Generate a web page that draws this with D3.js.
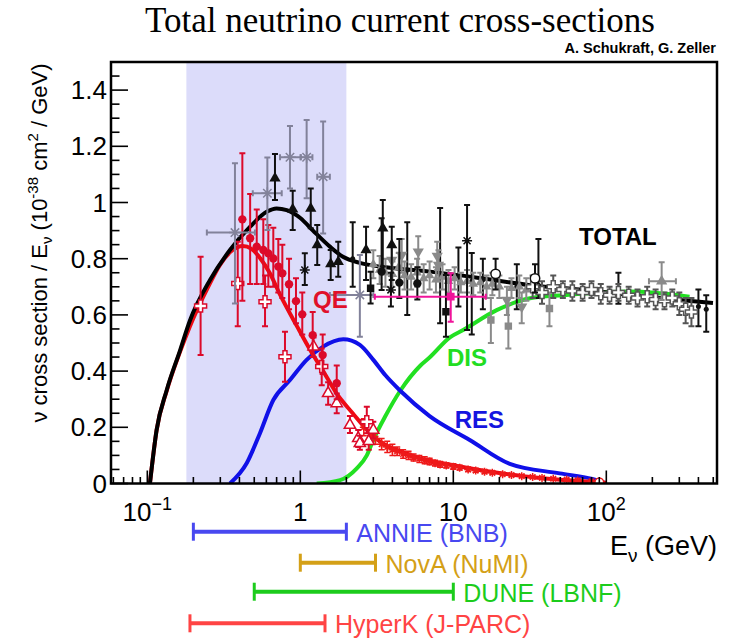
<!DOCTYPE html>
<html><head><meta charset="utf-8">
<script src="https://cdn.jsdelivr.net/npm/d3@7"></script>
<style>body{margin:0;background:#fff}svg{display:block}</style>
</head><body>
<script>
// ---------- DATA ----------
const xTickMajor = [0.1, 1, 10, 100];
const xTickLabels = [["10","\u22121"],["1",""],["10",""],["10","2"]];
const yTickMajor = [0,0.2,0.4,0.6,0.8,1.0,1.2,1.4];
const yTickLabels = ["0","0.2","0.4","0.6","0.8","1","1.2","1.4"];

const totalCurve = [[0.104,0],[0.115,0.19],[0.134,0.333],[0.164,0.475],[0.19,0.58],[0.257,0.724],[0.347,0.831],[0.47,0.914],[0.603,0.967],[0.70,0.979],[0.815,0.973],[1.0,0.945],[1.21,0.90],[1.56,0.843],[1.9,0.807],[2.45,0.785],[3.32,0.772],[7.05,0.754],[15,0.731],[31.7,0.706],[67,0.69],[143,0.671],[303,0.653],[498,0.642]];
const qeCurve = [[0.104,0],[0.115,0.19],[0.134,0.33],[0.164,0.47],[0.19,0.56],[0.25,0.70],[0.30,0.78],[0.36,0.83],[0.42,0.845],[0.48,0.835],[0.55,0.80],[0.63,0.75],[0.74,0.67],[0.95,0.56],[1.16,0.475],[1.41,0.40],[1.73,0.32],[2.2,0.25],[2.85,0.18],[3.3,0.15],[4.5,0.115],[6,0.09],[10,0.065],[20,0.037],[40,0.018],[100,0.003]];
const resCurve = [[0.347,0],[0.446,0.072],[0.545,0.179],[0.666,0.297],[0.856,0.368],[1.10,0.44],[1.41,0.487],[1.91,0.513],[2.45,0.493],[3.0,0.44],[3.6,0.385],[4.5,0.33],[7,0.24],[12.8,0.155],[23.4,0.07],[49.6,0.036],[81,0.016],[100,0]];
const disCurve = [[1.28,0],[1.82,0.012],[2.34,0.054],[2.72,0.10],[3.0,0.155],[3.6,0.24],[4.5,0.33],[6.1,0.42],[7.05,0.45],[9.5,0.52],[11.6,0.546],[19.2,0.617],[31.7,0.659],[52,0.67],[143,0.683],[350,0.665]];

// rows: [E, value, upper, lower, eLow, eHigh]
const redCircles = [[0.418,0.940,1.175,0.65],[0.47,0.873,1.03,0.71],[0.519,0.843,0.975,0.71],[0.573,0.831,0.94,0.71],[0.618,0.819,0.92,0.70],[0.666,0.801,0.91,0.70],[0.718,0.772,0.87,0.68],[0.763,0.748,0.85,0.66],[0.844,0.709,0.80,0.62],[0.937,0.649,0.73,0.57],[1.03,0.602,0.68,0.53],[1.205,0.528,0.61,0.45],[1.40,0.457,0.53,0.39],[1.73,0.357,0.42,0.30]];
const redOpenCrosses = [[0.223,0.632,0.807,0.457],[0.39,0.712,0.86,0.56],[0.588,0.647,0.74,0.56],[0.794,0.451,0.54,0.362],[1.38,0.416,0.48,0.35],[2.72,0.22,0.273,0.179]];
const redOpenTriangles = [[1.22,0.487,0.52,0.45],[1.52,0.321,0.36,0.28],[1.73,0.285,0.32,0.25],[2.11,0.208,0.24,0.18],[2.39,0.161,0.19,0.13],[2.45,0.143,0.17,0.12],[2.8,0.15,0.18,0.12],[3.0,0.19,0.22,0.16]];
const redStars = [[2.6,0.20,0.23,0.17],[2.9,0.17,0.19,0.15],[3.1,0.16,0.18,0.14],[3.4,0.14,0.16,0.12],[3.7,0.13,0.15,0.11],[4.0,0.12,0.14,0.10],[4.3,0.115,0.13,0.10],[4.7,0.105,0.12,0.09],[5.1,0.10,0.115,0.085],[5.5,0.092,0.105,0.08],[6.0,0.088,0.10,0.075],[6.5,0.082,0.095,0.07],[7.0,0.078,0.09,0.067],[7.6,0.072,0.083,0.062],[8.2,0.068,0.078,0.058],[9.0,0.064,0.074,0.055],[10,0.06,0.07,0.051],[11,0.056,0.065,0.048],[12.5,0.05,0.058,0.043],[14,0.046,0.053,0.04],[16,0.042,0.048,0.036],[18,0.038,0.044,0.033],[21,0.033,0.038,0.029],[24,0.03,0.035,0.026],[28,0.026,0.03,0.022],[33,0.023,0.027,0.019],[38,0.02,0.024,0.017],[45,0.017,0.02,0.014],[55,0.014,0.017,0.011],[65,0.011,0.014,0.009],[80,0.008,0.01,0.006]];
const redOpenCircles = [[90,0.004,0.006,0.002]];

const grayStarsX = [[0.374,0.893,1.14,0.641,0.245,0.505],[0.609,1.033,1.16,0.902,0.489,0.756],[0.856,1.161,1.272,1.05,0.737,1.006],[1.10,1.161,1.294,1.015,1.006,1.2],[1.41,1.092,1.288,0.89,1.29,1.56],[2.45,0.671,0.813,0.522,1.56,3.0]];
const blackTriangles = [[0.683,1.086,1.173,1.009],[0.892,0.976,1.042,0.902],[1.17,0.979,1.05,0.908],[1.29,0.849,0.92,0.778],[1.58,0.781,0.831,0.724],[1.77,0.789,0.86,0.736],[2.69,0.831,0.914,0.724],[3.46,0.908,1.009,0.772],[3.96,0.849,0.914,0.724]];
const blackStars = [[1.07,0.76,0.819,0.706],[12.3,0.864,0.991,0.546],[3.91,0.689,0.75,0.63]];
const blackCircles = [[3.4,0.754,0.944,0.689],[4.44,0.715,0.87,0.66],[5.82,0.712,0.77,0.655]];
const blackBars = [[2.2,0.80,0.93,0.70],[5.0,0.76,0.93,0.60],[8.2,0.74,0.98,0.57],[10.8,0.73,0.84,0.63],[13.2,0.72,0.82,0.53],[15.6,0.725,0.80,0.62],[26,0.70,0.78,0.62],[36,0.705,0.87,0.66],[120,0.685,0.75,0.64],[400,0.63,0.69,0.56],[450,0.62,0.67,0.54]];
const blackSquares = [[2.88,0.695,0.754,0.641],[8.95,0.611,0.742,0.522]];
const blackOpenCircles = [[18.9,0.746,0.80,0.69],[34.2,0.73,0.78,0.68]];
const grayInvTriangles = [[3.96,0.795,0.85,0.74],[4.6,0.813,0.87,0.75],[5.9,0.825,0.88,0.77],[7.85,0.81,0.86,0.76],[8.0,0.778,0.83,0.72],[22.4,0.653,0.70,0.60],[28,0.629,0.68,0.57]];
const graySquares = [[17.6,0.582,0.66,0.50],[22.9,0.56,0.64,0.48],[42.5,0.623,0.68,0.56]];
const grayDense = [[3.0,0.78,0.83,0.73],[3.3,0.76,0.81,0.71],[3.6,0.75,0.80,0.70],[4.0,0.745,0.79,0.70],[4.4,0.77,0.82,0.72],[4.8,0.74,0.79,0.69],[5.3,0.735,0.78,0.69],[5.8,0.75,0.80,0.70],[6.4,0.73,0.78,0.68],[7.0,0.74,0.79,0.69],[7.7,0.725,0.77,0.68],[8.5,0.735,0.78,0.69],[9.3,0.72,0.76,0.68],[10.2,0.73,0.77,0.69],[11.2,0.715,0.75,0.68],[12.3,0.72,0.76,0.68],[13.5,0.71,0.75,0.67],[15,0.715,0.75,0.68],[16.5,0.70,0.74,0.66],[18,0.71,0.75,0.67],[20,0.70,0.74,0.66],[24,0.695,0.73,0.66],[27,0.70,0.74,0.66],[30,0.69,0.73,0.65]];
const openCrosses = [[33,0.70,0.74,0.66],[38,0.68,0.72,0.64],[45,0.70,0.74,0.66],[52,0.69,0.72,0.66],[60,0.685,0.72,0.65],[70,0.68,0.71,0.65],[80,0.69,0.72,0.66],[92,0.675,0.71,0.64],[105,0.67,0.70,0.64],[120,0.68,0.71,0.65],[140,0.67,0.70,0.64],[160,0.66,0.69,0.63],[185,0.665,0.70,0.63],[210,0.655,0.69,0.62],[240,0.65,0.68,0.62],[270,0.66,0.69,0.63],[300,0.64,0.68,0.60],[330,0.62,0.66,0.57],[360,0.61,0.66,0.56]];
const grayTrianglesX = [[230,0.72,0.787,0.653,190,285]];
const magentaPoint = [[9.62,0.665,0.748,0.576,3.07,16.3]];

const experiments = ["ANNIE (BNB)","NovA (NuMI)","DUNE (LBNF)","HyperK (J-PARC)"];
const expLow = [0.2, 1.0, 0.5, 0.19];
const expHigh = [2.0, 3.1, 10, 1.45];
const shadeRange = [0.18, 2.0];

// ---------- STYLE ----------
const W=732,H=641;
const L=111,R=717,T=62,B=483.5;
const expColors=["#4848f0","#d4a017","#1ccc1c","#ff4444"];
const expY=[531.7,562.7,591.7,623.3];
const SANS="'Liberation Sans', Arial, Helvetica, sans-serif";

const svg=d3.select("body").append("svg").attr("width",W).attr("height",H).style("background","#fff");
const x=d3.scaleLog().domain([0.0579,529]).range([L,R]);
const y=d3.scaleLinear().domain([0,1.5]).range([B,T]);

svg.append("clipPath").attr("id","c").append("rect").attr("x",L).attr("y",T).attr("width",R-L).attr("height",B-T);

svg.append("rect").attr("x",x(shadeRange[0])).attr("y",T).attr("width",x(shadeRange[1])-x(shadeRange[0])).attr("height",B-T).attr("fill","#dcdcfa");

const plot=svg.append("g").attr("clip-path","url(#c)");

const line=d3.line().x(d=>x(d[0])).y(d=>y(d[1])).curve(d3.curveMonotoneX);
function curve(data,color){plot.append("path").datum(data).attr("d",line).attr("fill","none").attr("stroke",color).attr("stroke-width",4).attr("stroke-linejoin","round");}
curve(disCurve,"#22e022");
curve(resCurve,"#1010e8");
curve(qeCurve,"#ee0a14");
curve(totalCurve,"#000");

function sym(type,size){return d3.symbol().type(type).size(size)();}
function asterisk(r){return `M${-r},0L${r},0M0,${-r}L0,${r}M${-r*0.7},${-r*0.7}L${r*0.7},${r*0.7}M${-r*0.7},${r*0.7}L${r*0.7},${-r*0.7}`;}
function series(data,opt){
  const g=plot.append("g");
  const c=opt.color, ew=opt.ew||2;
  data.forEach(d=>{
    const cx=x(d[0]),cy=y(d[1]);
    if(d[2]!==undefined){
      g.append("line").attr("x1",cx).attr("x2",cx).attr("y1",y(d[2])).attr("y2",y(d[3])).attr("stroke",c).attr("stroke-width",ew);
      [d[2],d[3]].forEach(v=>g.append("line").attr("x1",cx-3).attr("x2",cx+3).attr("y1",y(v)).attr("y2",y(v)).attr("stroke",c).attr("stroke-width",ew));
    }
    if(d[4]!==undefined){
      g.append("line").attr("x1",x(d[4])).attr("x2",x(d[5])).attr("y1",cy).attr("y2",cy).attr("stroke",c).attr("stroke-width",ew);
      [d[4],d[5]].forEach(v=>g.append("line").attr("x1",x(v)).attr("x2",x(v)).attr("y1",cy-3).attr("y2",cy+3).attr("stroke",c).attr("stroke-width",ew));
    }
    if(!opt.shape) return;
    const m=g.append("path").attr("transform",`translate(${cx},${cy})${opt.rot?` rotate(${opt.rot})`:""}`);
    if(opt.shape==="ast"){m.attr("d",asterisk(opt.r||5)).attr("stroke",c).attr("stroke-width",1.5).attr("fill","none");}
    else{
      m.attr("d",sym(opt.shape,opt.size||60));
      if(opt.open){m.attr("fill","#fff").attr("stroke",c).attr("stroke-width",1.5);} else m.attr("fill",c);
    }
  });
}
const RED="#dc0a2a",GRAY="#8a8a8a",DARK="#101010";
series(redStars,{color:"#ee1a1a",shape:"ast",r:4,ew:1.5});
series(redOpenTriangles,{color:RED,shape:d3.symbolTriangle,size:55,open:true});
series(redOpenCrosses,{color:RED,shape:d3.symbolCross,size:80,open:true});
series(redCircles,{color:RED,shape:d3.symbolCircle,size:55});
series(redOpenCircles,{color:"#ee1a1a",shape:d3.symbolCircle,size:60,open:true});
series(blackBars,{color:DARK,shape:d3.symbolCircle,size:20});
series(grayDense,{color:GRAY,shape:d3.symbolTriangle,size:40});
series(grayInvTriangles,{color:GRAY,shape:d3.symbolTriangle,size:55,rot:180});
series(graySquares,{color:GRAY,shape:d3.symbolSquare,size:55});
series(openCrosses,{color:"#555",shape:d3.symbolCross,size:80,open:true});
series(grayTrianglesX,{color:GRAY,shape:d3.symbolTriangle,size:55});
series(grayStarsX,{color:"#82829a",shape:"ast",r:6});
series(blackTriangles,{color:DARK,shape:d3.symbolTriangle,size:55});
series(blackStars,{color:DARK,shape:"ast",r:5});
series(blackCircles,{color:DARK,shape:d3.symbolCircle,size:55});
series(blackSquares,{color:DARK,shape:d3.symbolSquare,size:55});
series(blackOpenCircles,{color:DARK,shape:d3.symbolCircle,size:70,open:true});
series(magentaPoint,{color:"#f0149a",shape:d3.symbolSquare,size:60});

svg.append("rect").attr("x",L).attr("y",T).attr("width",R-L).attr("height",B-T).attr("fill","none").attr("stroke","#000").attr("stroke-width",2.5);

const xMinor=[];
[0.01,0.1,1,10,100].forEach(dec=>{for(let k=1;k<10;k++){const v=dec*k;if(v>=x.domain()[0]&&v<=x.domain()[1])xMinor.push(v);}});
const ax=svg.append("g");
xMinor.forEach(v=>{const major=xTickMajor.includes(+v.toPrecision(6));ax.append("line").attr("x1",x(v)).attr("x2",x(v)).attr("y1",B).attr("y2",B-(major?13:6.5)).attr("stroke","#000").attr("stroke-width",1.6);});
xTickMajor.forEach((v,i)=>{
  const t=ax.append("text").attr("x",x(v)).attr("y",521).attr("text-anchor","middle").attr("font-family",SANS).attr("font-size",26);
  t.append("tspan").text(xTickLabels[i][0]);
  if(xTickLabels[i][1]) t.append("tspan").attr("dy",-11).attr("font-size",18).text(xTickLabels[i][1]);
});
for(let k=0;k<=30;k++){const v=k*0.05;const major=k%4===0;ax.append("line").attr("x1",L).attr("x2",L+(major?17:8.5)).attr("y1",y(v)).attr("y2",y(v)).attr("stroke","#000").attr("stroke-width",1.6);}
yTickMajor.forEach((v,i)=>ax.append("text").attr("x",107).attr("y",y(v)+9).attr("text-anchor","end").attr("font-family",SANS).attr("font-size",26).text(yTickLabels[i]));

const xt=svg.append("text").attr("x",R).attr("y",555).attr("text-anchor","end").attr("font-family",SANS).attr("font-size",27);
xt.append("tspan").text("E");
xt.append("tspan").attr("dy",7).attr("font-size",19).text("\u03bd");
xt.append("tspan").attr("dy",-7).text(" (GeV)");

const yt=svg.append("text").attr("transform",`translate(47,243) rotate(-90)`).attr("text-anchor","middle").attr("font-family",SANS).attr("font-size",22);
yt.append("tspan").text("\u03bd cross section / E");
yt.append("tspan").attr("dy",5).attr("font-size",15).text("\u03bd");
yt.append("tspan").attr("dy",-5).text(" (10");
yt.append("tspan").attr("dy",-9).attr("font-size",15).text("-38");
yt.append("tspan").attr("dy",9).text(" cm");
yt.append("tspan").attr("dy",-9).attr("font-size",15).text("2");
yt.append("tspan").attr("dy",9).text(" / GeV)");

svg.append("text").attr("x",400).attr("y",32).attr("text-anchor","middle").attr("font-family","'Liberation Serif','Times New Roman',serif").attr("font-size",35).text("Total neutrino current cross-sections");
svg.append("text").attr("x",R-1).attr("y",53).attr("text-anchor","end").attr("font-family",SANS).attr("font-weight","bold").attr("font-size",14.5).text("A. Schukraft, G. Zeller");

const lab=(t,e,v,c)=>svg.append("text").attr("x",x(e)).attr("y",y(v)).attr("font-family",SANS).attr("font-weight","bold").attr("font-size",24).attr("fill",c).text(t);
lab("TOTAL",66.3,0.849,"#000");
lab("QE",1.21,0.626,"#e0102a");
lab("DIS",9.1,0.418,"#22dd22");
lab("RES",10.2,0.197,"#1515e0");

experiments.forEach((n,i)=>{
  const g=svg.append("g").attr("stroke",expColors[i]).attr("stroke-width",4);
  g.append("line").attr("x1",x(expLow[i])).attr("x2",x(expHigh[i])).attr("y1",expY[i]).attr("y2",expY[i]);
  [expLow[i],expHigh[i]].forEach(v=>g.append("line").attr("x1",x(v)).attr("x2",x(v)).attr("y1",expY[i]-9).attr("y2",expY[i]+9).attr("stroke-width",3));
  svg.append("text").attr("x",x(expHigh[i])+10).attr("y",expY[i]+10).attr("font-family",SANS).attr("font-size",25).attr("fill",expColors[i]).text(n);
});
</script>
</body></html>
